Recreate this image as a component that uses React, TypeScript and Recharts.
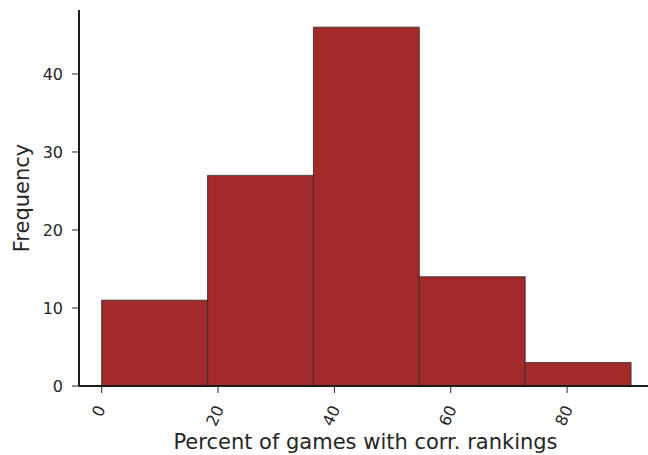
import React from "react";
import { ComposedChart, XAxis, YAxis, ReferenceArea, Line } from "recharts";

// histogram bins (bin edges) and counts
const BIN_EDGES = [0, 18.2, 36.4, 54.6, 72.8, 91.0];
const COUNTS = [11, 27, 46, 14, 3];
const X_TICKS = [0, 20, 40, 60, 80];
const Y_TICKS = [0, 10, 20, 30, 40];

const BAR_FILL = "#a32a2a";
const BAR_EDGE = "#3a2a2a";
const SPINE = "#1a1a1a";
const TEXT = "#262626";
const FONT = "DejaVu Sans, sans-serif";
const TICK_FONT = 16;
const LABEL_FONT = 21;

const data = COUNTS.map((count, i) => ({
  x0: BIN_EDGES[i],
  x1: BIN_EDGES[i + 1],
  mid: (BIN_EDGES[i] + BIN_EDGES[i + 1]) / 2,
  count,
}));

function RotatedTick(props: any) {
  const { x, y, payload } = props;
  const label = String(payload.value);
  const len = label.length * TICK_FONT * 0.636;
  const rad = (65 * Math.PI) / 180;
  const extent = len * Math.sin(rad) + TICK_FONT * 0.75 * Math.cos(rad);
  const cx = x - 3;
  const cy = y + 9 + extent / 2;
  return (
    <text
      x={cx}
      y={cy}
      transform={`rotate(-65 ${cx} ${cy})`}
      textAnchor="middle"
      dominantBaseline="central"
      fontSize={TICK_FONT}
      fontFamily={FONT}
      fill={TEXT}
    >
      {label}
    </text>
  );
}

export default function App() {
  return (
    <div style={{ width: 648, height: 455, overflow: "hidden", background: "#fff" }}>
      <style>{"body{margin:0}"}</style>
      <ComposedChart
        width={652}
        height={455}
        data={data}
        margin={{ top: 10, right: 0, bottom: 0, left: 0 }}
      >
        <XAxis
          type="number"
          dataKey="mid"
          domain={[-3.9, 94.6]}
          ticks={X_TICKS}
          interval={0}
          allowDataOverflow
          axisLine={{ stroke: SPINE, strokeWidth: 2 }}
          tickLine={{ stroke: TEXT, strokeWidth: 1 }}
          tickSize={7}
          height={69}
          tick={<RotatedTick />}
          label={{
            value: "Percent of games with corr. rankings",
            position: "insideBottom",
            offset: 6,
            fontSize: LABEL_FONT,
            fontFamily: FONT,
            fill: TEXT,
          }}
        />
        <YAxis
          type="number"
          domain={[0, 48.2]}
          ticks={Y_TICKS}
          interval={0}
          allowDataOverflow
          width={79}
          axisLine={{ stroke: SPINE, strokeWidth: 2 }}
          tickLine={{ stroke: TEXT, strokeWidth: 1 }}
          tickSize={7}
          tickMargin={9}
          tick={{ fontSize: TICK_FONT, fontFamily: FONT, fill: TEXT }}
          label={{
            value: "Frequency",
            angle: -90,
            position: "insideLeft",
            offset: 22,
            fontSize: LABEL_FONT,
            fontFamily: FONT,
            fill: TEXT,
            style: { textAnchor: "middle" },
          }}
        />
        {data.map((d, i) => (
          <ReferenceArea
            key={i}
            x1={d.x0}
            x2={d.x1}
            y1={0}
            y2={d.count}
            fill={BAR_FILL}
            fillOpacity={1}
            stroke={BAR_EDGE}
            strokeWidth={1}
            strokeOpacity={0.85}
          />
        ))}
        <Line
          dataKey="count"
          stroke="none"
          dot={false}
          activeDot={false}
          isAnimationActive={false}
        />
      </ComposedChart>
    </div>
  );
}
